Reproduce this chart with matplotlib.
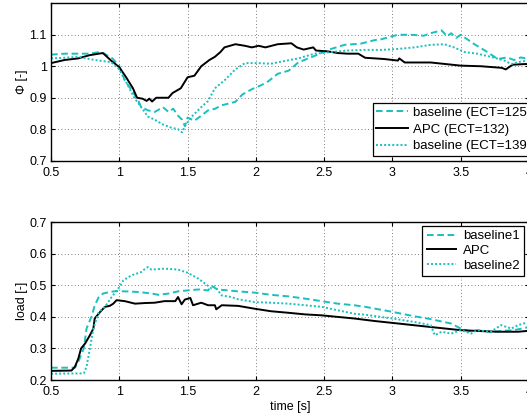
import matplotlib

matplotlib.use("Agg")
import matplotlib.pyplot as plt

plt.rcParams["font.family"] = ["Liberation Sans", "DejaVu Sans"]
plt.rcParams["font.size"] = 9

CYAN = "#1abfbf"

# ── top panel: equivalence ratio Φ ─────────────────────────────────────
t_phi_b1 = [0.5, 0.6, 0.7, 0.78, 0.85, 0.89, 0.95, 1.0, 1.04, 1.09, 1.14, 1.16,
            1.21, 1.26, 1.32, 1.36, 1.395, 1.43, 1.46, 1.48, 1.5, 1.55, 1.6, 1.65,
            1.7, 1.75, 1.85, 1.9, 1.97, 2.04, 2.09, 2.16, 2.24, 2.31, 2.43, 2.55,
            2.65, 2.77, 2.87, 2.92, 3.04, 3.14, 3.23, 3.28, 3.36, 3.4, 3.43, 3.466,
            3.5, 3.55, 3.6, 3.7, 3.77, 3.84, 3.89, 3.94, 4.0]
phi_b1 = [1.037, 1.04, 1.04, 1.04, 1.045, 1.04, 1.025, 1.0, 0.955, 0.925, 0.89, 0.87,
          0.86, 0.855, 0.87, 0.855, 0.865, 0.843, 0.83, 0.81, 0.837, 0.827, 0.843, 0.86,
          0.865, 0.876, 0.887, 0.91, 0.927, 0.94, 0.952, 0.976, 0.986, 1.012, 1.033, 1.055,
          1.068, 1.072, 1.083, 1.086, 1.1, 1.1, 1.097, 1.105, 1.114, 1.095, 1.105, 1.09,
          1.1, 1.085, 1.07, 1.044, 1.023, 1.028, 1.02, 1.028, 1.023]

t_phi_apc = [0.5, 0.6, 0.7, 0.78, 0.85, 0.88, 0.94, 1.0, 1.05, 1.1, 1.13, 1.17, 1.2,
             1.22, 1.24, 1.27, 1.3, 1.36, 1.39, 1.45, 1.5, 1.55, 1.6, 1.66, 1.7, 1.74,
             1.77, 1.85, 1.92, 1.97, 2.02, 2.07, 2.16, 2.26, 2.3, 2.35, 2.42, 2.44,
             2.53, 2.6, 2.67, 2.75, 2.8, 2.94, 3.04, 3.05, 3.09, 3.28, 3.5, 3.65, 3.8,
             3.83, 3.88, 3.97, 4.0]
phi_apc = [1.01, 1.02, 1.025, 1.035, 1.04, 1.042, 1.018, 0.997, 0.965, 0.93, 0.9, 0.897, 0.89,
           0.897, 0.888, 0.9, 0.9, 0.9, 0.915, 0.93, 0.965, 0.97, 1.0, 1.02, 1.03, 1.045,
           1.06, 1.07, 1.065, 1.06, 1.065, 1.06, 1.07, 1.073, 1.06, 1.053, 1.06, 1.05,
           1.047, 1.042, 1.04, 1.04, 1.027, 1.023, 1.018, 1.025, 1.012, 1.012, 1.002, 1.0, 0.995,
           0.99, 1.005, 1.007, 1.007]

t_phi_b2 = [0.5, 0.6, 0.7, 0.82, 0.94, 1.0, 1.05, 1.11, 1.16, 1.21, 1.26, 1.32, 1.38,
            1.43, 1.46, 1.48, 1.53, 1.6, 1.65, 1.7, 1.77, 1.85, 1.92, 2.02, 2.11, 2.19,
            2.31, 2.43, 2.55, 2.67, 2.8, 2.92, 3.04, 3.16, 3.28, 3.38, 3.45, 3.53, 3.62,
            3.72, 3.82, 3.87, 3.94, 4.0]
phi_b2 = [1.025, 1.027, 1.03, 1.02, 1.013, 0.99, 0.95, 0.9, 0.87, 0.84, 0.83, 0.815, 0.805,
          0.8, 0.79, 0.81, 0.84, 0.87, 0.89, 0.93, 0.955, 0.99, 1.01, 1.01, 1.008, 1.015,
          1.025, 1.04, 1.045, 1.05, 1.052, 1.052, 1.055, 1.06, 1.068, 1.07, 1.06, 1.045, 1.04,
          1.03, 1.018, 1.007, 1.015, 1.018]

# ── bottom panel: load ────────────────────────────────────────────────
t_load_b1 = [0.5, 0.675, 0.7, 0.74, 0.76, 0.8, 0.82, 0.85, 0.88, 0.93, 0.98, 1.04, 1.14,
             1.24, 1.285, 1.36, 1.43, 1.5, 1.58, 1.65, 1.675, 1.72, 1.87, 1.99, 2.11,
             2.24, 2.36, 2.48, 2.6, 2.72, 2.8, 3.0, 3.16, 3.28, 3.43, 3.5, 3.575, 3.62,
             3.72, 3.82, 3.89, 4.0]
load_b1 = [0.239, 0.239, 0.258, 0.3, 0.363, 0.405, 0.437, 0.463, 0.474, 0.479, 0.482, 0.481, 0.479,
           0.474, 0.47, 0.474, 0.481, 0.484, 0.487, 0.484, 0.498, 0.487, 0.481, 0.477, 0.47,
           0.465, 0.458, 0.45, 0.442, 0.437, 0.432, 0.416, 0.402, 0.393, 0.379, 0.363, 0.353, 0.358,
           0.353, 0.356, 0.358, 0.368]

t_load_apc = [0.5, 0.65, 0.675, 0.7, 0.72, 0.75, 0.785, 0.81, 0.82, 0.86, 0.895, 0.93,
              0.956, 0.98, 1.04, 1.115, 1.19, 1.26, 1.33, 1.41, 1.43, 1.456, 1.48, 1.52,
              1.54, 1.6, 1.65, 1.7, 1.71, 1.75, 1.87, 1.99, 2.11, 2.24, 2.36, 2.48, 2.6,
              2.72, 2.87, 3.0, 3.28, 3.5, 3.65, 3.77, 3.92, 4.0]
load_apc = [0.229, 0.23, 0.242, 0.268, 0.3, 0.316, 0.342, 0.363, 0.395, 0.416, 0.432, 0.435,
            0.442, 0.453, 0.45, 0.442, 0.444, 0.445, 0.45, 0.45, 0.463, 0.44, 0.455, 0.46,
            0.437, 0.445, 0.437, 0.437, 0.424, 0.437, 0.435, 0.426, 0.418, 0.413, 0.408, 0.405, 0.4,
            0.395, 0.387, 0.381, 0.368, 0.358, 0.355, 0.353, 0.353, 0.356]

t_load_b2 = [0.5, 0.74, 0.76, 0.785, 0.81, 0.85, 0.895, 0.944, 0.993, 1.03, 1.09, 1.16,
             1.19, 1.21, 1.236, 1.33, 1.43, 1.5, 1.58, 1.63, 1.675, 1.7, 1.75, 1.82, 1.87,
             1.99, 2.11, 2.24, 2.36, 2.48, 2.6, 2.72, 2.8, 3.0, 3.16, 3.28, 3.31, 3.36,
             3.43, 3.5, 3.575, 3.62, 3.72, 3.795, 3.87, 3.92, 4.0]
load_b2 = [0.22, 0.221, 0.242, 0.3, 0.363, 0.416, 0.432, 0.463, 0.49, 0.516, 0.532, 0.542,
           0.553, 0.558, 0.55, 0.553, 0.55, 0.54, 0.521, 0.505, 0.49, 0.497, 0.468, 0.463, 0.456,
           0.447, 0.445, 0.442, 0.437, 0.432, 0.421, 0.41, 0.407, 0.395, 0.384, 0.374, 0.342, 0.353,
           0.347, 0.358, 0.347, 0.358, 0.353, 0.374, 0.363, 0.374, 0.384]

x_ticks = [0.5, 1, 1.5, 2, 2.5, 3, 3.5, 4]
x_ticklabels = ["0.5", "1", "1.5", "2", "2.5", "3", "3.5", "4"]
phi_ticks = [0.7, 0.8, 0.9, 1.0, 1.1]
phi_ticklabels = ["0.7", "0.8", "0.9", "1", "1.1"]
load_ticks = [0.2, 0.3, 0.4, 0.5, 0.6, 0.7]
load_ticklabels = ["0.2", "0.3", "0.4", "0.5", "0.6", "0.7"]

DASH = (0, (3.4, 1.9))
DOT = (0, (1, 1.1))


def style_axes(ax):
    ax.set_xlim(0.5, 4)
    ax.set_xticks(x_ticks)
    ax.set_xticklabels(x_ticklabels)
    ax.tick_params(direction="in", top=True, right=True, length=3, labelsize=9)
    ax.tick_params(axis="x", pad=4.5)
    ax.tick_params(axis="y", pad=3)
    ax.grid(True, linestyle=(0, (1, 3)), color="#555555", linewidth=0.6)
    for s in ax.spines.values():
        s.set_linewidth(1.0)


fig = plt.figure(figsize=(5.27, 4.17), dpi=100)

ax1 = fig.add_axes([0.0968, 0.6146, 0.907, 0.3775])
ax1.plot(t_phi_b1, phi_b1, color=CYAN, linestyle=DASH, linewidth=1.4, label="baseline (ECT=125)")
ax1.plot(t_phi_apc, phi_apc, color="black", linewidth=1.4, label="APC (ECT=132)")
ax1.plot(t_phi_b2, phi_b2, color=CYAN, linestyle=DOT, linewidth=1.4, label="baseline (ECT=139)")
style_axes(ax1)
ax1.set_ylim(0.7, 1.2)
ax1.set_yticks(phi_ticks)
ax1.set_yticklabels(phi_ticklabels)
ax1.set_ylabel("Φ [-]", fontsize=9, labelpad=1)
leg1 = ax1.legend(loc="upper left", bbox_to_anchor=(0.674, 0.365), borderaxespad=0,
                  fancybox=False, edgecolor="black", framealpha=1, fontsize=9.5,
                  handlelength=2.4, handletextpad=0.4, borderpad=0.25, labelspacing=0.35)
leg1.get_frame().set_linewidth(0.9)

ax2 = fig.add_axes([0.0968, 0.0887, 0.907, 0.3783])
ax2.plot(t_load_b1, load_b1, color=CYAN, linestyle=DASH, linewidth=1.4, label="baseline1")
ax2.plot(t_load_apc, load_apc, color="black", linewidth=1.4, label="APC")
ax2.plot(t_load_b2, load_b2, color=CYAN, linestyle=DOT, linewidth=1.4, label="baseline2")
style_axes(ax2)
ax2.set_ylim(0.2, 0.7)
ax2.set_yticks(load_ticks)
ax2.set_yticklabels(load_ticklabels)
ax2.set_ylabel("load [-]", fontsize=9, labelpad=1)
ax2.set_xlabel("time [s]", fontsize=9, labelpad=2)
leg2 = ax2.legend(loc="upper left", bbox_to_anchor=(0.777, 0.977), borderaxespad=0,
                  fancybox=False, edgecolor="black", framealpha=1, fontsize=9.5,
                  handlelength=2.2, handletextpad=0.55, borderpad=0.33, labelspacing=0.18)
leg2.get_frame().set_linewidth(0.9)

fig.savefig("out.png", dpi=100)
plt.close(fig)
